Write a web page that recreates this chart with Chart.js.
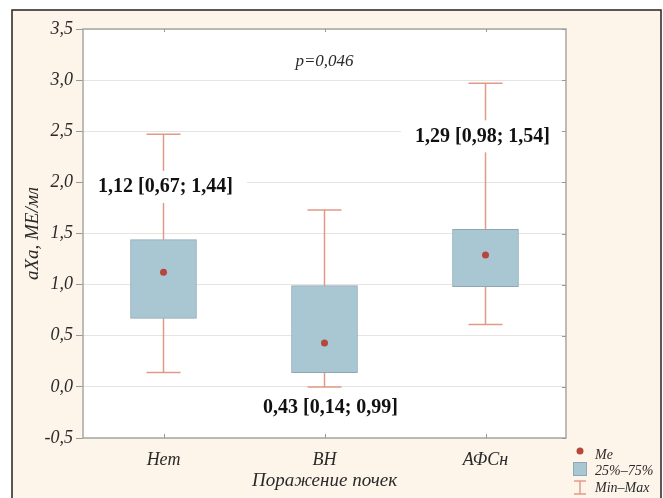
<!DOCTYPE html>
<html>
<head>
<meta charset="utf-8">
<script src="https://cdn.jsdelivr.net/npm/chart.js@4.4.1/dist/chart.umd.min.js"></script>
<style>
  html, body { margin: 0; padding: 0; background: #ffffff; }
  canvas { display: block; }
</style>
</head>
<body>
<canvas id="c" width="663" height="498"></canvas>
<script>
// ---- data ----
const categories = ['Нет', 'ВН', 'АФСн'];
const mins    = [0.14, 0.00, 0.61];
const q1      = [0.67, 0.14, 0.98];
const medians = [1.12, 0.43, 1.29];
const q3      = [1.44, 0.99, 1.54];
const maxs    = [2.47, 1.73, 2.97];
const pValueText = 'p=0,046';
const yAxisTitle = 'aXa, МЕ/мл';
const xAxisTitle = 'Поражение почек';
const legendLabels = ['Me', '25%–75%', 'Min–Max'];

const SERIF = "'Liberation Serif', 'Times New Roman', serif";
const fmt = v => v.toFixed(2).replace('.', ',');
const fmt1 = v => v.toFixed(1).replace('.', ',');

const COLORS = {
  cream: '#fdf5ea',
  frame: '#222222',
  plotBorder: '#a9a6a2',
  grid: '#e6e4e2',
  tick: '#9a9794',
  box: '#a8c7d3',
  boxBorder: '#8ea8b3',
  whisker: '#e29a86',
  median: '#b5483a',
  text: '#2a2a2a'
};

// label anchor positions (data-space) for the annotation texts
const labelAnchors = [
  { y: 1.955, dx: 2 },
  { y: -0.205, dx: 6 },
  { y: 2.45, dx: -3 }
];

const framePlugin = {
  id: 'frame',
  beforeDraw(chart) {
    const { ctx, chartArea: a } = chart;
    ctx.save();
    ctx.fillStyle = '#ffffff';
    ctx.fillRect(0, 0, chart.width, chart.height);
    ctx.fillStyle = COLORS.cream;
    ctx.fillRect(12, 10, 649, 500);
    ctx.strokeStyle = COLORS.frame;
    ctx.lineWidth = 1.5;
    ctx.strokeRect(12, 10, 649, 500);
    ctx.fillStyle = '#ffffff';
    ctx.fillRect(a.left, a.top, a.right - a.left, a.bottom - a.top);
    ctx.restore();
  },
  beforeDatasetsDraw(chart) {
    const { ctx, scales: { x, y } } = chart;
    ctx.save();
    ctx.strokeStyle = COLORS.whisker;
    ctx.lineWidth = 1.5;
    categories.forEach((c, i) => {
      const px = x.getPixelForValue(i);
      const cap = 17;
      ctx.beginPath();
      ctx.moveTo(px, y.getPixelForValue(maxs[i]));
      ctx.lineTo(px, y.getPixelForValue(q3[i]));
      ctx.moveTo(px, y.getPixelForValue(q1[i]));
      ctx.lineTo(px, y.getPixelForValue(mins[i]));
      ctx.moveTo(px - cap, y.getPixelForValue(maxs[i]));
      ctx.lineTo(px + cap, y.getPixelForValue(maxs[i]));
      ctx.moveTo(px - cap, y.getPixelForValue(mins[i]));
      ctx.lineTo(px + cap, y.getPixelForValue(mins[i]));
      ctx.stroke();
    });
    ctx.restore();
  },
  afterDatasetsDraw(chart) {
    const { ctx, chartArea: a, scales: { x, y } } = chart;
    ctx.save();
    ctx.font = "bold 20px " + SERIF;
    ctx.textAlign = 'center';
    ctx.textBaseline = 'middle';
    categories.forEach((c, i) => {
      const txt = fmt(medians[i]) + ' [' + fmt(q1[i]) + '; ' + fmt(q3[i]) + ']';
      const cx = x.getPixelForValue(i) + labelAnchors[i].dx;
      const cy = y.getPixelForValue(labelAnchors[i].y);
      const w = ctx.measureText(txt).width;
      let l = Math.max(a.left + 1, cx - w / 2 - 14);
      let r = Math.min(a.right - 1, cx + w / 2 + 14);
      let t = Math.max(a.top + 1, cy - 16);
      let b = Math.min(a.bottom - 1, cy + 16);
      ctx.fillStyle = '#ffffff';
      ctx.fillRect(l, t, r - l, b - t);
      ctx.fillStyle = '#111111';
      ctx.fillText(txt, cx, cy);
    });
    // p-value
    ctx.font = "italic 17px " + SERIF;
    ctx.fillStyle = COLORS.text;
    ctx.fillText(pValueText, x.getPixelForValue(1), y.getPixelForValue(3.18));
    ctx.restore();
  },
  afterDraw(chart) {
    const { ctx, chartArea: a, scales: { x, y } } = chart;
    ctx.save();
    // plot border
    ctx.strokeStyle = COLORS.plotBorder;
    ctx.lineWidth = 1.5;
    ctx.strokeRect(a.left, a.top, a.right - a.left, a.bottom - a.top);
    // inner ticks on right
    ctx.strokeStyle = COLORS.tick;
    ctx.lineWidth = 1;
    ctx.beginPath();
    y.ticks.forEach(t => {
      const py = Math.round(y.getPixelForValue(t.value)) + 0.5;
      ctx.moveTo(a.right - 4, py);
      ctx.lineTo(a.right, py);
    });
    categories.forEach((c, i) => {
      const px = Math.round(x.getPixelForValue(i)) + 0.5;
      ctx.moveTo(px, a.bottom);
      ctx.lineTo(px, a.bottom - 4);
      ctx.moveTo(px, a.top);
      ctx.lineTo(px, a.top + 3);
    });
    ctx.stroke();
    // legend
    const lx = 580;
    ctx.fillStyle = COLORS.median;
    ctx.beginPath();
    ctx.arc(lx, 451, 3.5, 0, Math.PI * 2);
    ctx.fill();
    ctx.fillStyle = COLORS.box;
    ctx.fillRect(lx - 7, 462, 14, 14);
    ctx.strokeStyle = COLORS.boxBorder;
    ctx.strokeRect(lx - 7 + 0.5, 462.5, 13, 13);
    ctx.strokeStyle = COLORS.whisker;
    ctx.lineWidth = 1.5;
    ctx.beginPath();
    ctx.moveTo(lx - 6, 481); ctx.lineTo(lx + 6, 481);
    ctx.moveTo(lx, 481); ctx.lineTo(lx, 494);
    ctx.moveTo(lx - 6, 494); ctx.lineTo(lx + 6, 494);
    ctx.stroke();
    ctx.font = "italic 14px " + SERIF;
    ctx.fillStyle = COLORS.text;
    ctx.textAlign = 'left';
    ctx.textBaseline = 'middle';
    ctx.fillText(legendLabels[0], 595, 455);
    ctx.fillText(legendLabels[1], 595, 471);
    ctx.fillText(legendLabels[2], 595, 488);
    ctx.restore();
  }
};

new Chart(document.getElementById('c'), {
  type: 'bar',
  data: {
    labels: categories,
    datasets: [
      {
        type: 'line',
        data: medians,
        showLine: false,
        pointRadius: 3.5,
        pointHoverRadius: 3.5,
        pointBackgroundColor: COLORS.median,
        pointBorderColor: COLORS.median,
        pointBorderWidth: 0,
        order: 0
      },
      {
        type: 'bar',
        data: categories.map((c, i) => [q1[i], q3[i]]),
        backgroundColor: COLORS.box,
        borderColor: COLORS.boxBorder,
        borderWidth: 1,
        borderSkipped: false,
        barThickness: 66,
        order: 1
      }
    ]
  },
  options: {
    responsive: false,
    animation: false,
    devicePixelRatio: 1,
    layout: { padding: { left: 0, top: 29, right: 97, bottom: 0 } },
    plugins: { legend: { display: false }, tooltip: { enabled: false } },
    scales: {
      x: {
        grid: { display: false },
        border: { display: false },
        ticks: { padding: 3, color: COLORS.text, font: { family: SERIF, size: 18, style: 'italic' } },
        title: {
          display: true, text: xAxisTitle, color: COLORS.text,
          font: { family: SERIF, size: 19, style: 'italic' },
          padding: { top: 0, bottom: 6 }
        },
        afterFit(s) { s.height = 60; }
      },
      y: {
        min: -0.5, max: 3.5,
        ticks: {
          stepSize: 0.5, padding: 3, color: COLORS.text,
          font: { family: SERIF, size: 18, style: 'italic' },
          callback: v => fmt1(v)
        },
        grid: { color: COLORS.grid, tickColor: COLORS.tick, tickLength: 7, lineWidth: 1 },
        border: { display: false },
        title: {
          display: true, text: yAxisTitle, color: COLORS.text,
          font: { family: SERIF, size: 19, style: 'italic' },
          padding: { top: 22, bottom: 0 }
        },
        afterFit(s) { s.width = 83; }
      }
    }
  },
  plugins: [framePlugin]
});
</script>
</body>
</html>
